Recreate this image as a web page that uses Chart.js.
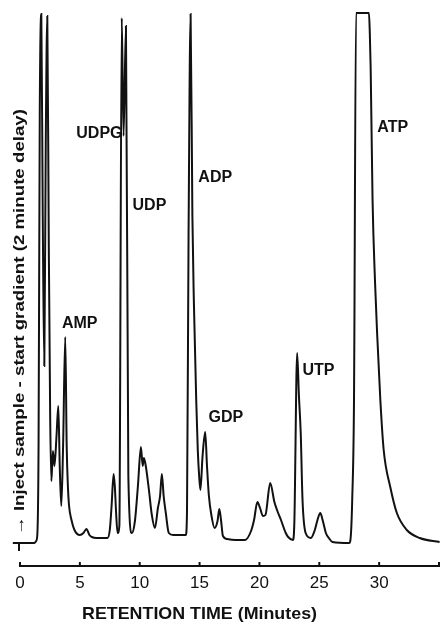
<!DOCTYPE html>
<html>
<head>
<meta charset="utf-8">
<title>Retention time</title>
<script src="https://cdn.jsdelivr.net/npm/chart.js@4.4.0/dist/chart.umd.min.js"></script>
<style>
  html, body { margin: 0; padding: 0; background: #fff; }
  canvas { display: block; }
</style>
</head>
<body>
<canvas id="chart" width="446" height="623"></canvas>
<script>
// retention time, minutes
const retentionTimes = [
    -0.6, 1.2, 1.35, 1.45, 1.55, 1.65, 1.78, 1.9, 2.03, 2.15, 2.28, 2.4, 2.52, 2.62, 2.75, 2.88,
    3.05, 3.2, 3.32, 3.45, 3.6, 3.78, 3.9, 4.0, 4.1, 4.3, 4.55, 5.0, 5.3, 5.55, 5.8, 6.0, 6.4,
    7.3, 7.5, 7.65, 7.82, 7.92, 8.02, 8.15, 8.3, 8.5, 8.65, 8.85, 9.05, 9.35, 9.6, 9.85, 10.1,
    10.25, 10.35, 10.52, 10.77, 11.0, 11.27, 11.52, 11.7, 11.85, 12.0, 12.18, 12.43, 12.8, 13.26,
    13.85, 13.95, 14.08, 14.25, 14.4, 14.52, 14.72, 14.85, 14.97, 15.07, 15.25, 15.47, 15.62,
    15.78, 16.0, 16.25, 16.5, 16.65, 16.8, 16.95, 17.3, 18.0, 18.8, 19.3, 19.55, 19.83, 20.05,
    20.3, 20.5, 20.9, 21.25, 21.5, 21.8, 22.2, 22.4, 22.8, 22.92, 23.15, 23.3, 23.45, 23.6,
    23.86, 24.3, 24.6, 24.85, 25.08, 25.3, 25.55, 25.8, 26.1, 27.5, 27.65, 27.75, 27.9, 28.07,
    29.15, 29.22, 29.29, 29.45, 29.66, 29.83, 30.1, 30.38, 30.93, 31.48, 32.31, 33.39, 35.05
];

// detector response, arbitrary units (top of the recorder = 553)
const response = [
    23, 23, 25, 32, 120, 450, 552, 350, 200, 420, 550, 330, 150, 85, 115, 100,
    130, 160, 100, 60, 120, 229, 120, 80, 60, 46, 36, 31, 33, 37, 31, 29, 28,
    28, 36, 60, 92, 80, 55, 33, 40, 548, 430, 540, 90, 33, 45, 80, 119,
    100, 108, 99, 76, 52, 38, 58, 70, 92, 70, 53, 33, 31, 31,
    31, 55, 330, 552, 350, 266, 166, 116, 89, 76, 110, 134, 100,
    70, 50, 38, 45, 57, 45, 30, 27, 26, 26, 35, 46, 64, 58,
    50, 51, 83, 64, 55, 46, 33, 29, 26, 45, 213, 170, 133, 66,
    33, 28, 35, 46, 53, 45, 33, 28, 24, 23, 33, 66, 166, 553,
    553, 533, 499, 366, 283, 233, 166, 116, 79, 53, 36, 28, 24
];

const peakNames = ['AMP', 'UDPG', 'UDP', 'ADP', 'GDP', 'UTP', 'ATP'];
const peakLabelTimes = [3.5, 4.7, 9.4, 14.9, 15.75, 23.6, 29.85];
const peakLabelLevels = [242, 432, 360, 388, 148, 195, 438];

const xTicks = [0, 5, 10, 15, 20, 25, 30, 35];
const injectNote = '\u2192 Inject sample - start gradient (2 minute delay)';
const xTitle = 'RETENTION TIME (Minutes)';

const FONT = '"Liberation Sans", Arial, sans-serif';
const INK = '#111';

// draws text stretched along its run to a given length
function fitText(ctx, text, x, y, length) {
    const w = ctx.measureText(text).width;
    ctx.save();
    ctx.translate(x, y);
    ctx.scale(length / w, 1);
    ctx.fillText(text, 0, 0);
    ctx.restore();
}

/**
 * Extra drawing: ticks pointing up, inject mark, peak names and titles.
 */
const notesPlugin = {
    id: 'notes',
    afterDraw(chart) {
        const {ctx, scales: {x, y}, chartArea} = chart;
        ctx.save();
        ctx.strokeStyle = INK;
        ctx.fillStyle = INK;
        ctx.lineWidth = 2;

        // tick marks above the axis line
        xTicks.forEach((t) => {
            const px = x.getPixelForValue(t);
            ctx.beginPath();
            ctx.moveTo(px, chartArea.bottom);
            ctx.lineTo(px, chartArea.bottom - 4);
            ctx.stroke();
        });

        // inject mark at time zero
        const x0 = x.getPixelForValue(0);
        ctx.beginPath();
        ctx.moveTo(x0 - 1, y.getPixelForValue(response[0]));
        ctx.lineTo(x0 - 1, y.getPixelForValue(response[0]) + 8);
        ctx.stroke();

        // rotated note
        ctx.save();
        ctx.translate(x0, y.getPixelForValue(31));
        ctx.rotate(-Math.PI / 2);
        ctx.font = 'bold 15px ' + FONT;
        ctx.textAlign = 'left';
        ctx.textBaseline = 'middle';
        fitText(ctx, injectNote, 0, 0, 426);
        ctx.restore();

        // peak names
        ctx.font = 'bold 16px ' + FONT;
        ctx.textAlign = 'left';
        ctx.textBaseline = 'middle';
        peakNames.forEach((name, i) => {
            ctx.fillText(name,
                x.getPixelForValue(peakLabelTimes[i]),
                y.getPixelForValue(peakLabelLevels[i]));
        });

        // axis title
        ctx.font = 'bold 17px ' + FONT;
        ctx.textAlign = 'left';
        fitText(ctx, xTitle, 82, 614, 235);
        ctx.restore();
    }
};

new Chart(document.getElementById('chart'), {
    type: 'line',
    data: {
        datasets: [{
            data: retentionTimes.map((t, i) => ({x: t, y: response[i]})),
            borderColor: INK,
            borderWidth: 2,
            pointRadius: 0,
            cubicInterpolationMode: 'monotone',
            fill: false,
            clip: false
        }]
    },
    options: {
        responsive: false,
        devicePixelRatio: 1,
        animation: false,
        layout: {
            padding: {left: 20, right: 4, top: 13, bottom: 0}
        },
        plugins: {
            legend: {display: false},
            tooltip: {enabled: false}
        },
        scales: {
            x: {
                type: 'linear',
                min: 0,
                max: 35,
                afterBuildTicks: (scale) => {
                    scale.ticks = xTicks.map((v) => ({value: v}));
                },
                afterFit: (scale) => {
                    scale.height = 57;
                },
                grid: {display: false, drawTicks: false},
                border: {display: true, color: INK, width: 2},
                ticks: {
                    color: INK,
                    padding: 7,
                    maxRotation: 0,
                    autoSkip: false,
                    font: {family: FONT, size: 17},
                    callback: (v) => (v === 35 ? '' : String(v))
                }
            },
            y: {
                display: false,
                min: 0,
                max: 553
            }
        }
    },
    plugins: [notesPlugin]
});
</script>
</body>
</html>
